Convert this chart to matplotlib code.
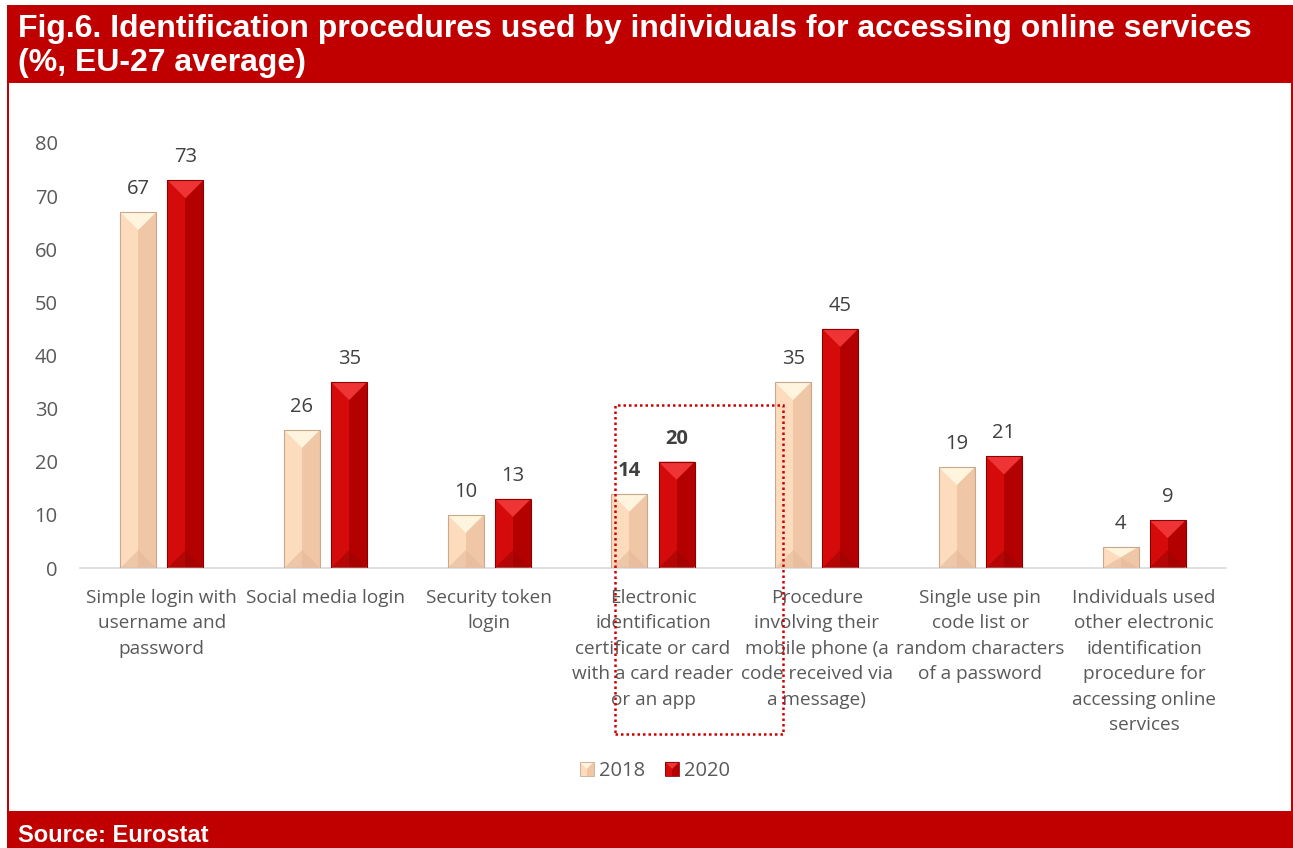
import matplotlib
matplotlib.use("Agg")
import matplotlib.pyplot as plt
from matplotlib.patches import Rectangle, Polygon
from matplotlib.legend_handler import HandlerBase
import numpy as np

categories = [
    "Simple login with\nusername and\npassword",
    "Social media login",
    "Security token\nlogin",
    "Electronic\nidentification\ncertificate or card\nwith a card reader\nor an app",
    "Procedure\ninvolving their\nmobile phone (a\ncode received via\na message)",
    "Single use pin\ncode list or\nrandom characters\nof a password",
    "Individuals used\nother electronic\nidentification\nprocedure for\naccessing online\nservices",
]
series_names = ["2018", "2020"]
values_2018 = [67, 26, 10, 14, 35, 19, 4]
values_2020 = [73, 35, 13, 20, 45, 21, 9]
bold_index = 3
yticks = [0, 10, 20, 30, 40, 50, 60, 70, 80]

title_lines = ["Fig.6. Identification procedures used by individuals for accessing online services",
               "(%, EU-27 average)"]
source = "Source: Eurostat"

RED = "#C00000"
styles = {
    "2018": dict(left="#FDDCBE", right="#EFC6A6", top="#FFF5DE", bottom="#E4BA9A", edge="#C9A88E"),
    "2020": dict(left="#D50B0B", right="#B30000", top="#EE3434", bottom="#A00404", edge="#8E0000"),
}

W, H = 1293, 848
fig = plt.figure(figsize=(W / 100, H / 100), dpi=100)
plt.rcParams['font.family'] = ['Open Sans', 'DejaVu Sans']

# frame
fig.patches.append(Rectangle((7 / W, 1 - 83 / H), (W - 7) / W, 78 / H, transform=fig.transFigure,
                             facecolor=RED, edgecolor='none', zorder=0))
fig.patches.append(Rectangle((7 / W, 0), (W - 7) / W, (H - 811) / H, transform=fig.transFigure,
                             facecolor=RED, edgecolor='none', zorder=0))
fig.patches.append(Rectangle((7 / W, 0), 2 / W, 1 - 5 / H, transform=fig.transFigure,
                             facecolor=RED, edgecolor='none', zorder=0))
fig.patches.append(Rectangle((1291 / W, 0), 2 / W, 1 - 5 / H, transform=fig.transFigure,
                             facecolor=RED, edgecolor='none', zorder=0))
for line, base in zip(title_lines, [37, 71]):
    fig.text(18 / W, 1 - base / H, line, color='white', fontsize=23, fontweight='bold',
             family='Liberation Sans', va='baseline', ha='left')
fig.text(18 / W, 1 - 842 / H, source, color='white', fontsize=17, fontweight='bold',
         family='Liberation Sans', va='baseline', ha='left')

ax_left, ax_right = 80 / W, 1226 / W
ax_bottom, ax_top = 1 - 568 / H, 1 - 143 / H
ax = fig.add_axes([ax_left, ax_bottom, ax_right - ax_left, ax_top - ax_bottom])
ax.set_xlim(-0.5, len(categories) - 0.5)
ax.set_ylim(0, 80)

x = np.arange(len(categories))
bw = 0.22
off = 0.144

px_per_x = (ax_right - ax_left) * W / len(categories)
px_per_y = (ax_top - ax_bottom) * H / 80.0


def bevel_bar(xc, val, st):
    x0, x1 = xc - bw / 2, xc + bw / 2
    half_px = bw * px_per_x / 2
    d = min(half_px / px_per_y, val / 2.0)
    ax.bar(xc - bw / 4, val, bw / 2, color=st["left"], linewidth=0, zorder=2)
    ax.bar(xc + bw / 4, val, bw / 2, color=st["right"], linewidth=0, zorder=2)
    ax.add_patch(Polygon([(x0, val), (x1, val), (xc, val - d)], closed=True,
                         facecolor=st["top"], edgecolor='none', zorder=3))
    ax.add_patch(Polygon([(x0, 0), (x1, 0), (xc, d)], closed=True,
                         facecolor=st["bottom"], edgecolor='none', zorder=3, alpha=0.6))
    ax.bar(xc, val, bw, facecolor='none', edgecolor=st["edge"], linewidth=0.8, zorder=4)


label_gap = 18 / px_per_y
for i in range(len(categories)):
    for name, vals, sgn in [("2018", values_2018, -1), ("2020", values_2020, 1)]:
        xc = x[i] + sgn * off
        bevel_bar(xc, vals[i], styles[name])
        ax.text(xc, vals[i] + label_gap, str(vals[i]), ha='center', va='baseline', fontsize=14.5,
                color='#404040', fontweight='bold' if i == bold_index else 'normal')

for s in ['top', 'right', 'left']:
    ax.spines[s].set_visible(False)
ax.spines['bottom'].set_color('#D9D9D9')
ax.spines['bottom'].set_linewidth(1.2)
ax.set_yticks(yticks)
ax.set_yticklabels([str(v) for v in yticks])
ax.tick_params(axis='y', length=0, pad=16, labelsize=14.5, labelcolor='#595959')
ax.set_xticks(x)
ax.set_xticklabels(categories, fontsize=13.7, color='#595959', linespacing=1.53)
ax.tick_params(axis='x', length=0, pad=15)

# dotted highlight box
ax.add_patch(Rectangle((2.768, -31.3), 1.025, 62.0, fill=False, edgecolor='#D00000',
                       linestyle=(0, (1, 1.2)), linewidth=1.8, clip_on=False, zorder=5))


class BevelHandler(HandlerBase):
    def __init__(self, st):
        super().__init__()
        self.st = st

    def create_artists(self, legend, orig_handle, xdescent, ydescent, width, height, fontsize, trans):
        st = self.st
        s = min(width, height) * 1.0
        x0 = -xdescent + (width - s) / 2
        y0 = -ydescent + (height - s) / 2
        xc = x0 + s / 2
        arts = [
            Rectangle((x0, y0), s / 2, s, facecolor=st["left"], edgecolor='none'),
            Rectangle((xc, y0), s / 2, s, facecolor=st["right"], edgecolor='none'),
            Polygon([(x0, y0 + s), (x0 + s, y0 + s), (xc, y0 + s / 2)], facecolor=st["top"], edgecolor='none'),
            Rectangle((x0, y0), s, s, facecolor='none', edgecolor=st["edge"], linewidth=0.6),
        ]
        for a in arts:
            a.set_transform(trans)
        return arts


h1 = Rectangle((0, 0), 1, 1)
h2 = Rectangle((0, 0), 1, 1)
fig.legend([h1, h2], series_names, loc='center', bbox_to_anchor=(655 / W, 1 - 771 / H),
           ncol=2, frameon=False, fontsize=14.5, labelcolor='#595959',
           handler_map={h1: BevelHandler(styles["2018"]), h2: BevelHandler(styles["2020"])},
           handlelength=0.7, handleheight=0.7, handletextpad=0.25, columnspacing=1.0)

fig.savefig("out.png", dpi=100, facecolor='white')
